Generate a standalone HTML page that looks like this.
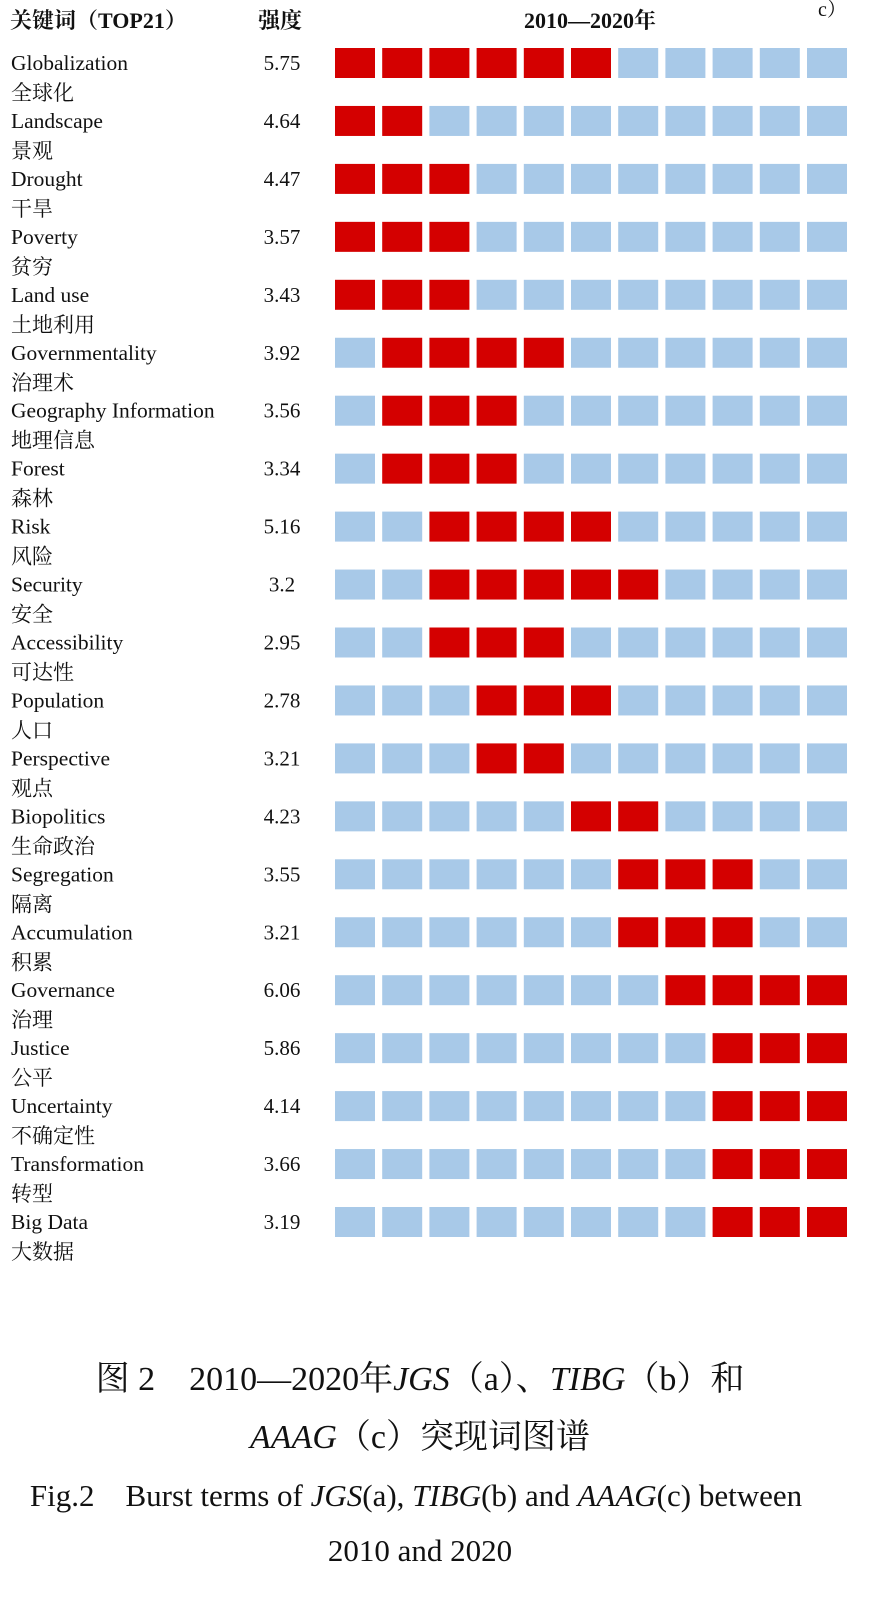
<!DOCTYPE html>
<html><head><meta charset="utf-8"><style>
body{margin:0;background:#fff;}
svg text{font-family:"Liberation Serif","Noto Serif CJK SC","Noto Sans CJK SC",serif;fill:#111;}
</style></head><body>
<svg width="870" height="1599" xmlns="http://www.w3.org/2000/svg" id="s">
<text x="10" y="28" font-size="22" font-weight="bold">关键词（TOP21）</text>
<text x="258" y="28" font-size="22" font-weight="bold">强度</text>
<text x="590" y="28" font-size="22" font-weight="bold" text-anchor="middle">2010—2020年</text>
<text x="818" y="16" font-size="20">c）</text>
<g id="rows"></g>
<text x="420" y="1390" font-size="34" text-anchor="middle">图 2　2010—2020年<tspan font-style="italic">JGS</tspan>（a）、<tspan font-style="italic">TIBG</tspan>（b）和</text>
<text x="420" y="1448" font-size="34" text-anchor="middle"><tspan font-style="italic">AAAG</tspan>（c）突现词图谱</text>
<text x="416" y="1506" font-size="31" text-anchor="middle">Fig.2　Burst terms of  <tspan font-style="italic">JGS</tspan>(a), <tspan font-style="italic">TIBG</tspan>(b) and <tspan font-style="italic">AAAG</tspan>(c) between</text>
<text x="420" y="1561" font-size="31" text-anchor="middle">2010 and 2020</text>
</svg>
<script>
var d=[["Globalization","全球化","5.75",0,5],["Landscape","景观","4.64",0,1],["Drought","干旱","4.47",0,2],["Poverty","贫穷","3.57",0,2],["Land use","土地利用","3.43",0,2],["Governmentality","治理术","3.92",1,4],["Geography Information","地理信息","3.56",1,3],["Forest","森林","3.34",1,3],["Risk","风险","5.16",2,5],["Security","安全","3.2",2,6],["Accessibility","可达性","2.95",2,4],["Population","人口","2.78",3,5],["Perspective","观点","3.21",3,4],["Biopolitics","生命政治","4.23",5,6],["Segregation","隔离","3.55",6,8],["Accumulation","积累","3.21",6,8],["Governance","治理","6.06",7,10],["Justice","公平","5.86",8,10],["Uncertainty","不确定性","4.14",8,10],["Transformation","转型","3.66",8,10],["Big Data","大数据","3.19",8,10]];
var h="";
d.forEach(function(r,i){var y=70+i*57.95;
h+='<text x="11" y="'+y+'" font-size="21.5">'+r[0]+'</text>';
h+='<text x="11" y="'+(y+30)+'" font-size="21">'+r[1]+'</text>';
h+='<text x="282" y="'+y+'" font-size="21" text-anchor="middle">'+r[2]+'</text>';
for(var c=0;c<11;c++){var red=c>=r[3]&&c<=r[4];
h+='<rect x="'+(335+c*47.2)+'" y="'+(y-22)+'" width="40" height="30" fill="'+(red?'#d40000':'#a8c9e8')+'"/>';}
});
document.getElementById("rows").innerHTML=h;
</script>
</body></html>
